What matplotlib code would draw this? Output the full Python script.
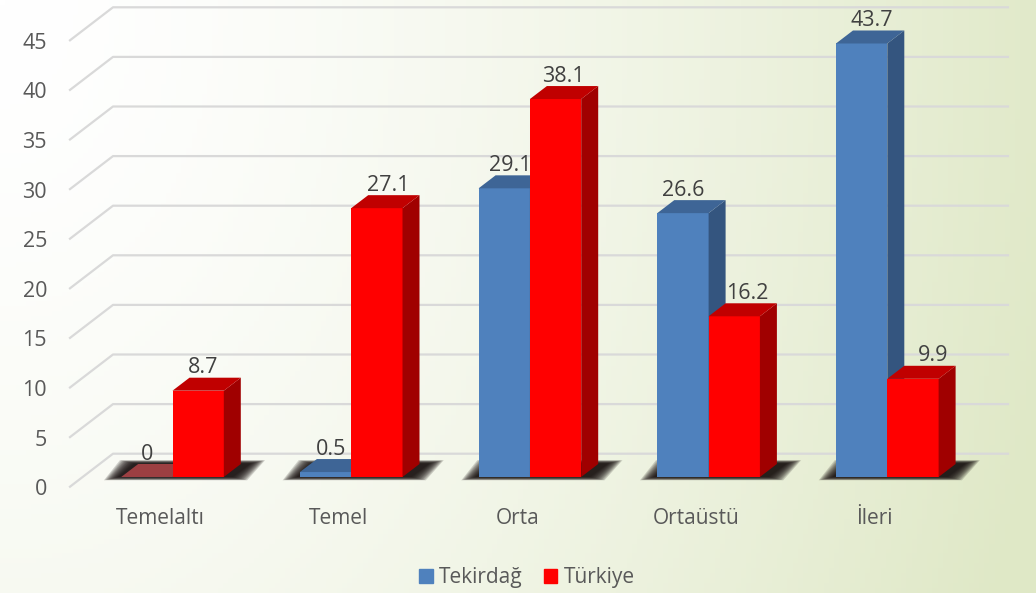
import matplotlib
matplotlib.use('Agg')
from matplotlib import pyplot as plt
from matplotlib.patches import Patch
import numpy as np

plt.rcParams['font.family'] = ['Open Sans', 'DejaVu Sans']

categories = ['Temelaltı', 'Temel', 'Orta', 'Ortaüstü', 'İleri']
tekirdag = [0, 0.5, 29.1, 26.6, 43.7]
turkiye = [8.7, 27.1, 38.1, 16.2, 9.9]
y_ticks = [0, 5, 10, 15, 20, 25, 30, 35, 40, 45]

# pixel nudges of the value labels, they sit unevenly in the original
tek_nudge = [0, 6, 6, 0, 10]
tur_nudge = [5, 11, 8, 13, 20]

W, H = 1036, 593
X0 = 172.5       # pixel of first category boundary
XS = 178.7       # pixels per category
Y0 = 477.0       # pixel of value 0 at bar front
YS = 9.92        # pixels per unit

def px(p):
    return (p - X0) / XS

def dy(p):
    return p / YS

bar_w = 51.3 / XS
dep_x = 17 / XS
dep_y = dy(13)

fig = plt.figure(figsize=(W / 100, H / 100), dpi=100)
ax = fig.add_axes([0, 0, 1, 1])
ax.set_axis_off()

# background
yy, xx = np.mgrid[0:1:120j, 0:1:200j]
t = np.clip(np.sqrt((xx * 1.0) ** 2 + (yy * 0.4) ** 2) / 1.05, 0, 1) ** 1.5
c0 = np.array([255, 255, 255]) / 255
c1 = np.array([223, 232, 198]) / 255
bg = c0 + (c1 - c0) * t[..., None]
xlim = (px(0), px(W))
ylim = (-(H - Y0) / YS, Y0 / YS)
ax.imshow(bg, extent=(xlim[0], xlim[1], ylim[0], ylim[1]), aspect='auto', zorder=0)

# walls
wall_up = dy(Y0 - 453.7)
front_dn = dy(486.7 - Y0)
for v in y_ticks:
    ax.plot([px(70), px(113), px(1008)], [v - front_dn, v + wall_up, v + wall_up],
            color='#d9d9d9', lw=1.6, zorder=1, solid_joinstyle='round')
    ax.annotate(str(v), (px(47), v - front_dn), xytext=(0, -3), textcoords='offset pixels',
                ha='right', va='center', fontsize=15.5, color='#595959')

# floor shadows
for i in range(len(categories)):
    left = i - bar_w
    right = i + bar_w
    for k in range(12):
        e = (11 - k) * 1.3
        ey = (11 - k) * 0.3
        ax.fill([px(X0 + (left - 3 / XS) * XS - e), px(X0 + (left + 13 / XS) * XS - e),
                 px(X0 + (right + 27 / XS) * XS + e), px(X0 + (right + 9 / XS) * XS + e)],
                [dy(0 - ey), dy(13.5 + ey), dy(13.5 + ey), dy(0 - ey)],
                color='#100808', alpha=0.17, lw=0, zorder=2)


def draw_bar(x, v, front, side, top, z, top_zero=None):
    ax.bar(x, v, width=bar_w, align='edge', color=front, lw=0, zorder=z)
    ax.fill([x + bar_w, x + bar_w + dep_x, x + bar_w + dep_x, x + bar_w],
            [0, dep_y, v + dep_y, v], color=side, lw=0, zorder=z)
    col = top if v > 0 or top_zero is None else top_zero
    ax.fill([x, x + dep_x, x + bar_w + dep_x, x + bar_w],
            [v, v + dep_y, v + dep_y, v], color=col, lw=0, zorder=z)


for i in range(len(categories)):
    draw_bar(i - bar_w, tekirdag[i], '#4f81bd', '#34557f', '#3e6596', 3, top_zero='#9c3f42')
    draw_bar(i, turkiye[i], '#ff0000', '#a00000', '#c00000', 4)

# value labels
for i in range(len(categories)):
    ax.annotate(str(tekirdag[i]), (i - bar_w / 2, tekirdag[i]), xytext=(tek_nudge[i], 23),
                textcoords='offset pixels', ha='center', va='center',
                fontsize=15.5, color='#404040', zorder=6)
    ax.annotate(str(turkiye[i]), (i + bar_w / 2, turkiye[i]), xytext=(tur_nudge[i], 23),
                textcoords='offset pixels', ha='center', va='center',
                fontsize=15.5, color='#404040', zorder=6)
    ax.text(i - 12.5 / XS, -dy(519 - Y0), categories[i], ha='center', va='center',
            fontsize=15, color='#595959')

handles = [Patch(color='#4f81bd', label='Tekirdağ'), Patch(color='#ff0000', label='Türkiye')]
ax.legend(handles=handles, loc='center', bbox_to_anchor=(527 / W, 1 - 578 / H), ncol=2,
          frameon=False, fontsize=15, labelcolor='#595959', handlelength=0.65,
          handleheight=0.65, handletextpad=0.3, columnspacing=1.0, borderpad=0)

ax.set_xlim(xlim)
ax.set_ylim(ylim)
fig.savefig('out.png', dpi=100)
